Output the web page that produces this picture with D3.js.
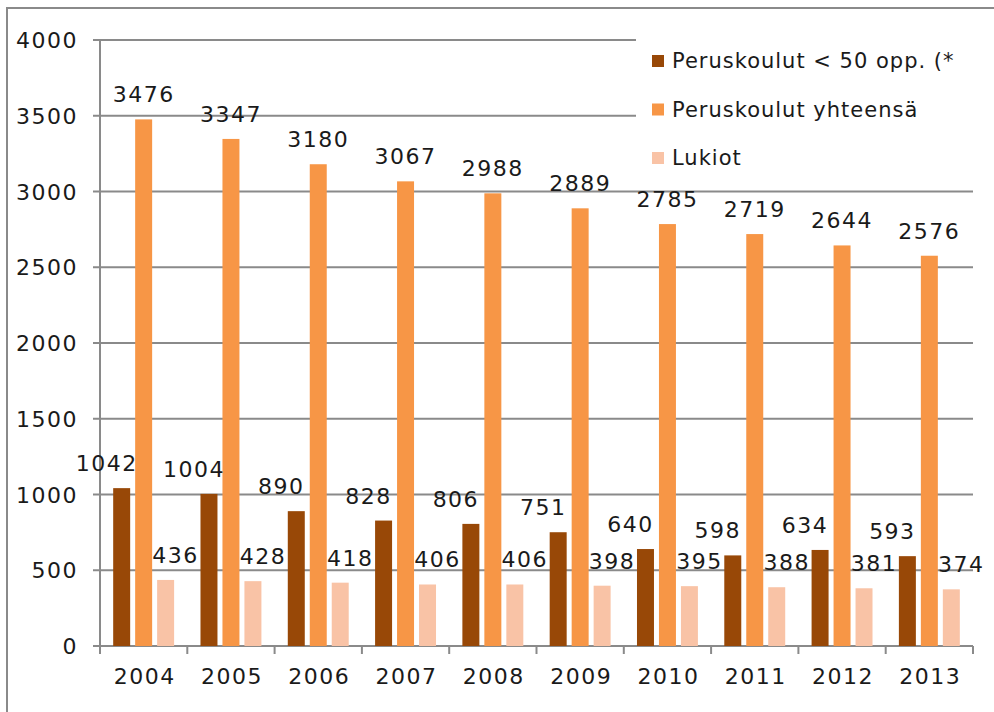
<!DOCTYPE html>
<html>
<head>
<meta charset="utf-8">
<script src="https://cdn.jsdelivr.net/npm/d3@7"></script>
<style>
  body { margin: 0; background: #fff; }
  svg text { font-family: "DejaVu Sans", sans-serif; fill: #1a1a1a; }
</style>
</head>
<body>
<svg id="chart" width="994" height="712"></svg>
<script>
// data
var years = ["2004", "2005", "2006", "2007", "2008", "2009", "2010", "2011", "2012", "2013"];
var seriesNames = ["Peruskoulut < 50 opp. (*", "Peruskoulut yhteensä", "Lukiot"];
var small = [1042, 1004, 890, 828, 806, 751, 640, 598, 634, 593];
var total = [3476, 3347, 3180, 3067, 2988, 2889, 2785, 2719, 2644, 2576];
var lukiot = [436, 428, 418, 406, 406, 398, 395, 388, 381, 374];
var yTicks = [0, 500, 1000, 1500, 2000, 2500, 3000, 3500, 4000];

var colors = ["#984807", "#f79646", "#f9c3a6"];
var labelShift = [-15, 0, 10];   // labels in the original sit a bit off-centre

drawChart();

function drawChart() {
    var svg = d3.select("#chart");

    // outer frame (cut off at right and bottom)
    svg.append("path")
        .attr("d", "M7,720 L7,8 L1000,8")
        .attr("fill", "none")
        .attr("stroke", "#8a8a8a")
        .attr("stroke-width", 2);

    var plotLeft = 100, plotRight = 973, plotTop = 40, plotBottom = 646;
    var numFont = "22px", numSpacing = "1.5px";

    var y = d3.scaleLinear().domain([0, 4000]).range([plotBottom, plotTop]);
    var x0 = d3.scaleBand().domain(years).range([plotLeft, plotRight]).padding(0);
    var x1 = d3.scaleBand().domain([0, 1, 2]).range([0, x0.bandwidth()])
        .paddingInner(0.227).paddingOuter(0.6);

    // gridlines + y ticks
    svg.append("g").selectAll("line")
        .data(yTicks)
        .enter()
        .append("line")
        .attr("x1", plotLeft - 7)
        .attr("x2", plotRight)
        .attr("y1", function(d){ return y(d); })
        .attr("y2", function(d){ return y(d); })
        .attr("stroke", "#8a8a8a")
        .attr("stroke-width", 2);

    svg.append("g").selectAll("text")
        .data(yTicks)
        .enter()
        .append("text")
        .attr("x", 78)
        .attr("y", function(d){ return y(d) + 8; })
        .attr("text-anchor", "end")
        .style("font-size", numFont)
        .style("letter-spacing", numSpacing)
        .text(function(d){ return d; });

    // y axis line
    svg.append("line")
        .attr("x1", plotLeft).attr("x2", plotLeft)
        .attr("y1", plotTop).attr("y2", plotBottom + 1)
        .attr("stroke", "#8a8a8a")
        .attr("stroke-width", 2);

    // x axis ticks at band edges
    var edges = years.map(function(d){ return x0(d); }).concat([plotRight]);
    svg.append("g").selectAll("line")
        .data(edges)
        .enter()
        .append("line")
        .attr("x1", function(d){ return d; })
        .attr("x2", function(d){ return d; })
        .attr("y1", plotBottom)
        .attr("y2", plotBottom + 8)
        .attr("stroke", "#8a8a8a")
        .attr("stroke-width", 2);

    svg.append("g").selectAll("text")
        .data(years)
        .enter()
        .append("text")
        .attr("x", function(d){ return x0(d) + x0.bandwidth() / 2 + 1; })
        .attr("y", 684)
        .attr("text-anchor", "middle")
        .style("font-size", numFont)
        .style("letter-spacing", numSpacing)
        .text(function(d){ return d; });

    // bars
    var allSeries = [small, total, lukiot];
    var rows = [];
    allSeries.forEach(function(vals, s) {
        vals.forEach(function(v, i) {
            rows.push({ s: s, year: years[i], value: v });
        });
    });

    svg.append("g").selectAll("rect")
        .data(rows)
        .enter()
        .append("rect")
        .attr("x", function(d){ return x0(d.year) + x1(d.s); })
        .attr("y", function(d){ return y(d.value); })
        .attr("width", x1.bandwidth())
        .attr("height", function(d){ return plotBottom - y(d.value); })
        .attr("fill", function(d){ return colors[d.s]; });

    // value labels
    svg.append("g").selectAll("text")
        .data(rows)
        .enter()
        .append("text")
        .attr("x", function(d){ return x0(d.year) + x1(d.s) + x1.bandwidth() / 2 + labelShift[d.s]; })
        .attr("y", function(d){ return y(d.value) - 17; })
        .attr("text-anchor", "middle")
        .style("font-size", numFont)
        .style("letter-spacing", numSpacing)
        .text(function(d){ return d.value; });

    // legend
    var legend = svg.append("g");
    legend.append("rect")
        .attr("x", 636).attr("y", 30)
        .attr("width", 337).attr("height", 155)
        .attr("fill", "#fff");

    var item = legend.selectAll("g.item")
        .data(seriesNames)
        .enter()
        .append("g")
        .attr("class", "item")
        .attr("transform", function(d, i){ return "translate(652," + (55 + i * 48.5) + ")"; });

    item.append("rect")
        .attr("width", 12).attr("height", 12)
        .attr("fill", function(d, i){ return colors[i]; });

    item.append("text")
        .attr("x", 20)
        .attr("y", 13)
        .style("font-size", "21px")
        .style("letter-spacing", "1px")
        .text(function(d){ return d; });
}
</script>
</body>
</html>
